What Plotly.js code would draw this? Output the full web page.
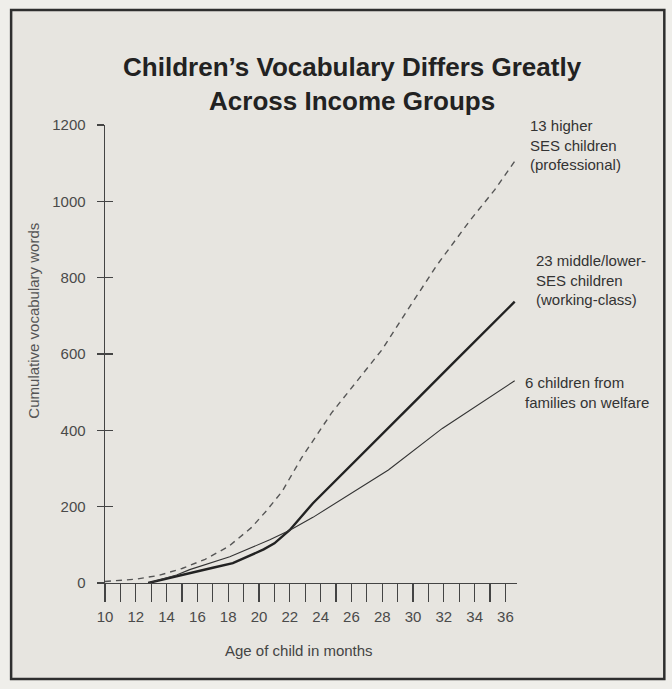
<!DOCTYPE html>
<html>
<head>
<meta charset="utf-8">
<script src="https://cdn.plot.ly/plotly-3.0.1.min.js"></script>
<style>html,body{margin:0;padding:0;background:#efeeea;}</style>
</head>
<body>
<div id="chart" style="width:672px;height:689px;"></div>
<script>
// Data
const monthsProfessional = [10, 12, 13.5, 15, 16.5, 18, 19.5, 20.5, 21.5, 22.75, 24.7, 26.75, 28, 29.4, 31.5, 33.7, 35.3, 36.6];
const wordsProfessional  = [4, 10, 20, 38, 62, 95, 145, 190, 240, 327, 445, 548, 612, 700, 830, 950, 1030, 1105];

const monthsWorking = [12.8, 14, 15.5, 17, 18.3, 20.3, 21, 22, 23.5, 25.2, 26.75, 28.4, 30.4, 32.6, 34.7, 36.6];
const wordsWorking  = [0, 12, 26, 40, 52, 88, 104, 139, 209, 277, 340, 405, 487, 576, 660, 737];

const monthsWelfare = [12.8, 14.65, 15.5, 18.1, 20.7, 22, 23.5, 25.2, 26.75, 28.4, 31.9, 36.6];
const wordsWelfare  = [0, 21, 35, 69, 113, 138, 172, 215, 252, 296, 405, 530];

const xTickVals = [10,11,12,13,14,15,16,17,18,19,20,21,22,23,24,25,26,27,28,29,30,31,32,33,34,35,36];
const xTickText = ['10','','12','','14','','16','','18','','20','','22','','24','','26','','28','','30','','32','','34','','36'];
const yTickVals = [0, 200, 400, 600, 800, 1000, 1200];
const yTickText = ['0', '200', '400', '600', '800', '1000', '1200'];

const seriesLabels = [
  '13 higher<br>SES children<br>(professional)',
  '23 middle/lower-<br>SES children<br>(working-class)',
  '6 children from<br>families on welfare'
];

const FONT = 'Liberation Sans, Arial, Helvetica, sans-serif';
const INSIDE = '#e7e5e0';

const traces = [
  {x: monthsProfessional, y: wordsProfessional, type: 'scatter', mode: 'lines',
   line: {color: '#555', width: 1.4, dash: '6px,5px'}, hoverinfo: 'skip'},
  {x: monthsWorking, y: wordsWorking, type: 'scatter', mode: 'lines',
   line: {color: '#222', width: 2.4}, hoverinfo: 'skip'},
  {x: monthsWelfare, y: wordsWelfare, type: 'scatter', mode: 'lines',
   line: {color: '#333', width: 1.1}, hoverinfo: 'skip'},
  // invisible trace to enable overlaying y axis (crossing ticks)
  {x: [10], y: [0], yaxis: 'y2', type: 'scatter', mode: 'lines', line: {width: 0}, hoverinfo: 'skip', showlegend: false}
];

const layout = {
  width: 672, height: 689,
  paper_bgcolor: '#efeeea',
  plot_bgcolor: 'rgba(0,0,0,0)',
  showlegend: false,
  margin: {l: 105, r: 154.5, t: 125, b: 106, pad: 0},
  font: {family: FONT, color: '#444', size: 15},
  title: {
    text: 'Children’s Vocabulary Differs Greatly<br>Across Income Groups',
    font: {family: FONT, size: 26, color: '#222', weight: 700},
    x: 0.524, xanchor: 'center', xref: 'container',
    y: 1 - 76/689, yanchor: 'middle', yref: 'container'
  },
  xaxis: {
    range: [10, 36.75],
    tickmode: 'array', tickvals: xTickVals, ticktext: xTickText,
    ticks: 'outside', ticklen: 18, tickwidth: 1.2, tickcolor: '#444',
    showline: true, linecolor: '#444', linewidth: 1.4,
    showgrid: false, zeroline: false,
    tickfont: {family: FONT, size: 15, color: '#4a4a4a'},
    ticklabelstandoff: 2
  },
  yaxis: {
    range: [0, 1200],
    tickmode: 'array', tickvals: yTickVals, ticktext: yTickText,
    ticks: 'outside', ticklen: 7, tickwidth: 1.2, tickcolor: '#444',
    showline: true, linecolor: '#444', linewidth: 1.4,
    showgrid: false, zeroline: false,
    tickfont: {family: FONT, size: 15, color: '#4a4a4a'},
    ticklabelstandoff: 8
  },
  yaxis2: {
    range: [0, 1200], overlaying: 'y', side: 'left', anchor: 'x',
    tickmode: 'array', tickvals: yTickVals,
    ticks: 'inside', ticklen: 8, tickwidth: 1.2, tickcolor: '#444',
    showticklabels: false, showline: false, showgrid: false, zeroline: false
  },
  shapes: [{
    type: 'rect', xref: 'paper', yref: 'paper', layer: 'below',
    x0: (11-105)/412.5, x1: (665-105)/412.5, y0: (583-679)/458, y1: (583-10)/458,
    fillcolor: INSIDE, line: {color: '#2e2e2e', width: 2.5}
  }],
  annotations: [
    {text: seriesLabels[0], xref: 'paper', yref: 'paper', x: 1.0279, y: 0.9574,
     xanchor: 'left', yanchor: 'middle', align: 'left', showarrow: false,
     font: {family: FONT, size: 15, color: '#333'}},
    {text: seriesLabels[1], xref: 'paper', yref: 'paper', x: 1.0407, y: 0.6616,
     xanchor: 'left', yanchor: 'middle', align: 'left', showarrow: false,
     font: {family: FONT, size: 15, color: '#333'}},
    {text: seriesLabels[2], xref: 'paper', yref: 'paper', x: 1.0141, y: 0.4159,
     xanchor: 'left', yanchor: 'middle', align: 'left', showarrow: false,
     font: {family: FONT, size: 15, color: '#333'}},
    {text: 'Cumulative vocabulary words', xref: 'paper', yref: 'paper', x: -0.1745, y: 0.5731,
     xanchor: 'center', yanchor: 'middle', textangle: -90, showarrow: false,
     font: {family: FONT, size: 15, color: '#555'}},
    {text: 'Age of child in months', xref: 'paper', yref: 'paper', x: 0.4703, y: -0.1463,
     xanchor: 'center', yanchor: 'middle', showarrow: false,
     font: {family: FONT, size: 15, color: '#444'}}
  ]
};

Plotly.newPlot('chart', traces, layout, {displayModeBar: false, staticPlot: true});
</script>
</body>
</html>
